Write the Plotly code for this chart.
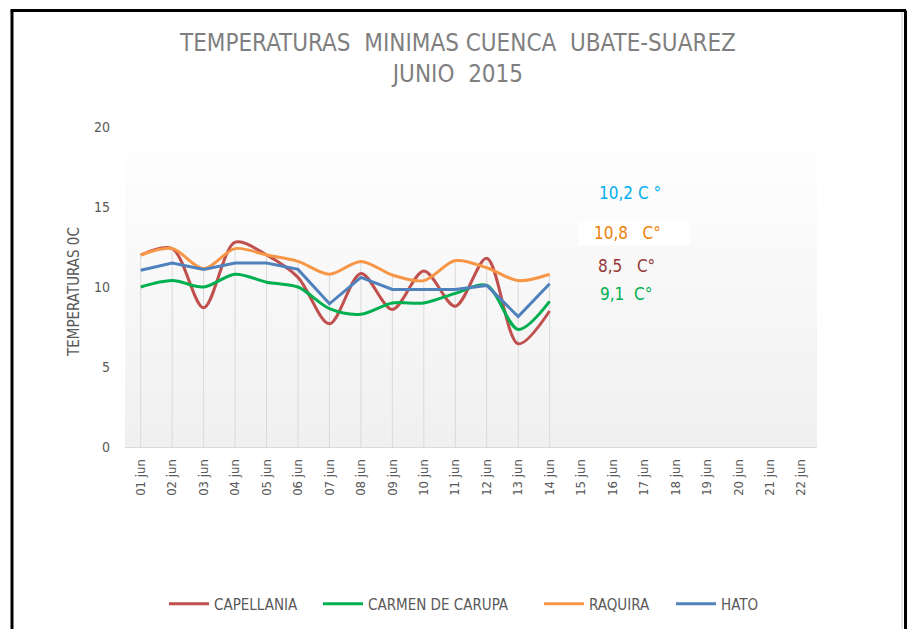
import plotly.graph_objects as go

# ---- data ----
dates = ["01 jun", "02 jun", "03 jun", "04 jun", "05 jun", "06 jun", "07 jun", "08 jun",
         "09 jun", "10 jun", "11 jun", "12 jun", "13 jun", "14 jun", "15 jun", "16 jun",
         "17 jun", "18 jun", "19 jun", "20 jun", "21 jun", "22 jun"]
capellania = [12.0, 12.4, 8.7, 12.8, 12.0, 10.6, 7.7, 10.85, 8.6, 11.0, 8.8, 11.8, 6.45, 8.5]
carmen = [10.0, 10.4, 10.0, 10.8, 10.3, 10.0, 8.65, 8.3, 9.0, 9.0, 9.6, 10.1, 7.35, 9.1]
raquira = [12.0, 12.4, 11.15, 12.4, 12.0, 11.6, 10.8, 11.6, 10.75, 10.4, 11.65, 11.2, 10.4, 10.8]
hato = [11.05, 11.5, 11.1, 11.5, 11.5, 11.1, 8.95, 10.6, 9.85, 9.85, 9.85, 10.1, 8.15, 10.2]
names = ["CAPELLANIA", "CARMEN DE CARUPA", "RAQUIRA", "HATO"]
labels = ["10,2 C °", "10,8   C°", "8,5   C°", "9,1  C°"]
yticks = [0, 5, 10, 15, 20]

# ---- layout constants (page coordinates; body margin removed) ----
OFF = 0
W, H = 908, 629
L, R, T, B = 125, 91, 127, 182
PW, PH = W - L - R, H - T - B
FONT = "DejaVu Sans Condensed, Liberation Sans Narrow, Liberation Sans, sans-serif"


def px(xp):
    return (xp - OFF - L) / PW


def py(yp):
    return (H - B - (yp - OFF)) / PH


def cx(xp):
    return (xp - OFF) / W


def cy(yp):
    return 1 - (yp - OFF) / H


xi = list(range(len(dates)))
fig = go.Figure()

# drop lines from the highest series value down to the axis
dx, dy = [], []
for i in range(len(capellania)):
    m = max(capellania[i], carmen[i], raquira[i], hato[i])
    dx += [i, i, None]
    dy += [0, m, None]
fig.add_trace(go.Scatter(x=dx, y=dy, mode="lines", line=dict(color="#d9d9d9", width=1),
                         showlegend=False, hoverinfo="skip"))

series = [
    (capellania, "#c0504d", "spline"),
    (carmen, "#00b050", "spline"),
    (raquira, "#f79646", "spline"),
    (hato, "#4f81bd", "linear"),
]
legend_x = [164, 318, 539, 671]
legend_ids = ["legend", "legend2", "legend3", "legend4"]
for (vals, col, shp), nm, lid in zip(series, names, legend_ids):
    fig.add_trace(go.Scatter(x=xi[:len(vals)], y=vals, name=nm, mode="lines", legend=lid,
                             line=dict(color=col, width=3, shape=shp, smoothing=0.9)))

shapes = []
# gradient background of plot area
nb = 40
for k in range(nb):
    t = k / nb
    g = int(round(240 + 15 * (k / (nb - 1))))
    shapes.append(dict(type="rect", xref="paper", yref="paper", x0=0, x1=1,
                       y0=t, y1=(k + 1) / nb, line=dict(width=0),
                       fillcolor=f"rgb({g},{g},{g})", layer="below"))
# outer black frame (left, top, right)
shapes.append(dict(type="line", xref="paper", yref="paper", x0=px(12), x1=px(12),
                   y0=py(10.5), y1=py(640), line=dict(color="black", width=3)))
shapes.append(dict(type="line", xref="paper", yref="paper", x0=px(10.5), x1=px(906),
                   y0=py(10.5), y1=py(10.5), line=dict(color="black", width=3)))
shapes.append(dict(type="line", xref="paper", yref="paper", x0=px(905.5), x1=px(905.5),
                   y0=py(10.5), y1=py(640), line=dict(color="black", width=3)))
shapes.append(dict(type="line", xref="paper", yref="paper", x0=px(902), x1=px(902),
                   y0=py(12), y1=py(640), line=dict(color="#e6e6e6", width=2)))
# white box behind the RAQUIRA label
shapes.append(dict(type="rect", xref="paper", yref="paper", x0=px(578), x1=px(690),
                   y0=py(245), y1=py(221), line=dict(width=0), fillcolor="white"))

ann_cols = ["#00b0f0", "#f07f09", "#953735", "#00b050"]
ann_pos = [(630, 193), (627, 233), (626, 266), (626, 294)]
annotations = []
for txt, col, (ax_, ay_) in zip(labels, ann_cols, ann_pos):
    annotations.append(dict(text=txt, xref="paper", yref="paper", x=px(ax_), y=py(ay_),
                            xanchor="center", yanchor="middle",
                            showarrow=False, font=dict(family=FONT, size=17, color=col)))

annotations.append(dict(text="TEMPERATURAS  MINIMAS CUENCA  UBATE-SUAREZ<br>JUNIO  2015",
                        xref="paper", yref="paper", x=px(457), y=py(58),
                        xanchor="center", yanchor="middle", showarrow=False,
                        font=dict(family=FONT, size=24, color="#7f7f7f")))
# y-axis title
annotations.append(dict(text="TEMPERATURAS 0C", xref="paper", yref="paper", x=px(74), y=py(292),
                        xanchor="center", yanchor="middle", textangle=-90, showarrow=False,
                        font=dict(family=FONT, size=15, color="#595959")))

legends = {}
for lid, lx in zip(legend_ids, legend_x):
    legends[lid] = dict(orientation="h", xref="container", yref="container",
                        x=cx(lx), xanchor="left", y=cy(604), yanchor="middle",
                        bgcolor="rgba(0,0,0,0)",
                        font=dict(family=FONT, size=15, color="#595959"), itemwidth=40)

fig.update_layout(
    width=W, height=H, margin=dict(l=L, r=R, t=T, b=B),
    paper_bgcolor="white", plot_bgcolor="rgba(0,0,0,0)",
    shapes=shapes, annotations=annotations,
    font=dict(family=FONT, color="#595959", size=13),
    xaxis=dict(range=[-0.5, len(dates) - 0.5], tickvals=xi, ticktext=dates, tickangle=-90,
               showgrid=False, zeroline=False, showline=True, linecolor="#d9d9d9", linewidth=1,
               ticks="", tickfont=dict(size=13, color="#595959"), ticklabelstandoff=6),
    yaxis=dict(range=[0, 20], tickvals=yticks, showgrid=False, zeroline=False, showline=False,
               ticks="", tickfont=dict(size=14, color="#595959"), ticklabelstandoff=14),
    **legends,
)

fig.write_html("out.html", config={"displayModeBar": False},
               post_script="document.body.style.margin='0px';document.body.style.overflow='hidden';")
